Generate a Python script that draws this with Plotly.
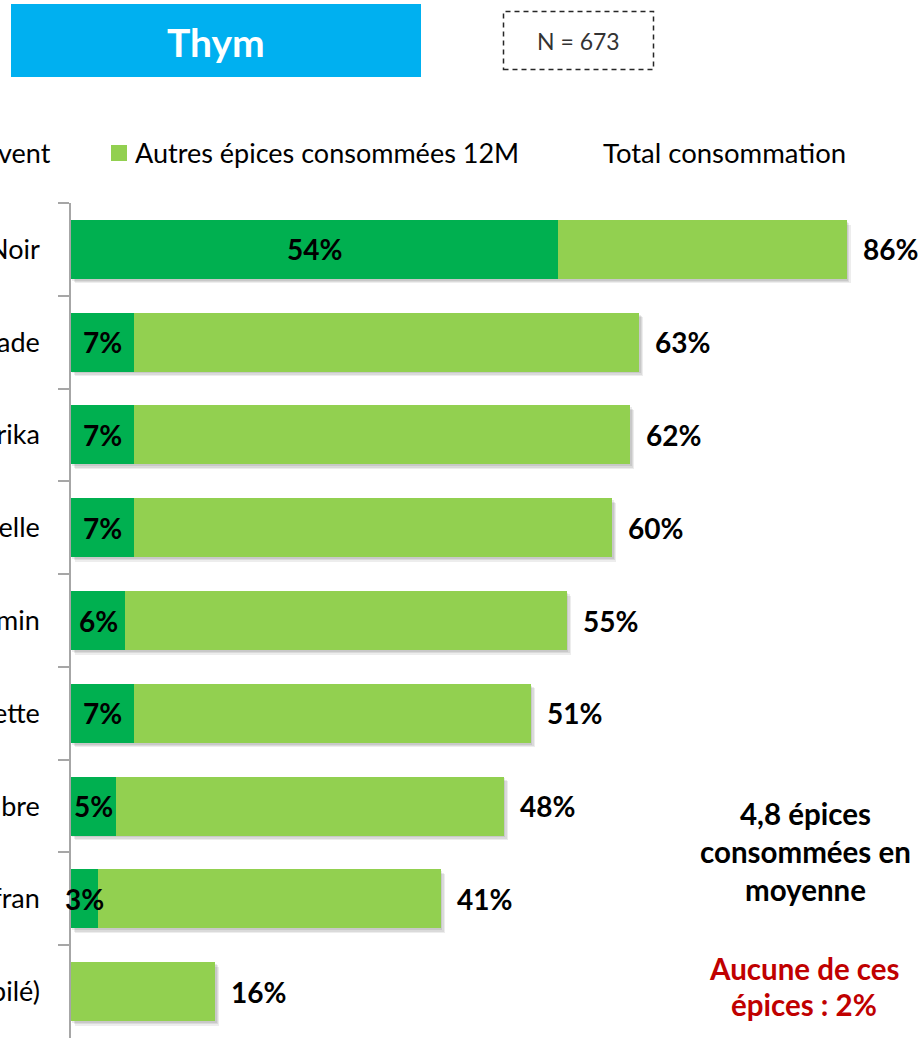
import plotly.graph_objects as go

# --- data -------------------------------------------------------------
categories = ["Poivre Noir", "Noix de Muscade", "Paprika", "Cannelle", "Cumin",
              "Piment d'Espelette", "Gingembre", "Safran", "Piment (pilé)"]
souvent = [54, 7, 7, 7, 6, 7, 5, 3, 0]          # dark segment
total = [86, 63, 62, 60, 55, 51, 48, 41, 16]     # total consumption
autres = [t - s for t, s in zip(total, souvent)]  # light segment

legend_labels = ["Épices consommées souvent", "Autres épices consommées 12M", "Total consommation"]
title_text = "Thym"
sample_text = "N = 673"
moyenne_lines = ["4,8 épices", "consommées en", "moyenne"]
aucune_lines = ["Aucune de ces", "épices : 2%"]

# --- page geometry ----------------------------------------------------
W, H = 923, 1038
ML, MT = 71, 203
PW, PH = W - ML, H - MT
PX_PER_PCT = 9.02
XMAX = PW / PX_PER_PCT

DARK = "#00B050"
LIGHT = "#92D050"
FONT = "Lato"
BAR_W = 0.635


def px(x):
    return (x - ML) / PW


def py(y):
    return (H - y) / PH


fig = go.Figure()

# soft drop shadow under each bar
for dy, dx, a in [(0.05, 0.45, 0.07), (0.035, 0.3, 0.08), (0.02, 0.15, 0.08)]:
    fig.add_trace(go.Bar(
        y=categories, x=total, base=dx, orientation="h",
        width=BAR_W, offset=-BAR_W / 2 + dy,
        marker=dict(color=f"rgba(0,0,0,{a})", line=dict(width=0)),
        hoverinfo="skip", showlegend=False,
    ))

fig.add_trace(go.Bar(
    y=categories, x=souvent, orientation="h", name=legend_labels[0],
    width=BAR_W, marker=dict(color=DARK, line=dict(width=0)), showlegend=False,
))
fig.add_trace(go.Bar(
    y=categories, x=autres, base=souvent, orientation="h", name=legend_labels[1],
    width=BAR_W, marker=dict(color=LIGHT, line=dict(width=0)), showlegend=False,
))

annotations = []
# value labels
for cat, s, t in zip(categories, souvent, total):
    if s > 0:
        annotations.append(dict(x=s / 2, y=cat, xref="x", yref="y", text=f"<b>{s}%</b>",
                                showarrow=False, xanchor="center", yanchor="middle",
                                font=dict(family=FONT, size=28, color="black")))
    annotations.append(dict(x=t, y=cat, xref="x", yref="y", text=f"<b>{t}%</b>",
                            showarrow=False, xanchor="left", yanchor="middle", xshift=14,
                            font=dict(family=FONT, size=28, color="black")))

# title banner and sample size
annotations.append(dict(x=px(216), y=py(42), xref="paper", yref="paper", text=f"<b>{title_text}</b>",
                        showarrow=False, xanchor="center", yanchor="middle",
                        font=dict(family=FONT, size=39, color="white")))
annotations.append(dict(x=px(578), y=py(41), xref="paper", yref="paper", text=sample_text,
                        showarrow=False, xanchor="center", yanchor="middle",
                        font=dict(family=FONT, size=23, color="#333333")))

# legend
annotations.append(dict(x=px(53), y=py(153), xref="paper", yref="paper", text=legend_labels[0],
                        showarrow=False, xanchor="right", yanchor="middle", xshift=0,
                        font=dict(family=FONT, size=27, color="black")))
annotations.append(dict(x=px(133), y=py(153), xref="paper", yref="paper", text=legend_labels[1],
                        showarrow=False, xanchor="left", yanchor="middle",
                        font=dict(family=FONT, size=27, color="black")))
annotations.append(dict(x=px(601), y=py(153), xref="paper", yref="paper", text=legend_labels[2],
                        showarrow=False, xanchor="left", yanchor="middle",
                        font=dict(family=FONT, size=27.5, color="black")))

# side notes
for i, line in enumerate(moyenne_lines):
    annotations.append(dict(x=px(805), y=py(813 + 38 * i), xref="paper", yref="paper",
                            text=f"<b>{line}</b>", showarrow=False, xanchor="center", yanchor="middle",
                            font=dict(family=FONT, size=29.5, color="black")))
for i, line in enumerate(aucune_lines):
    annotations.append(dict(x=px(804), y=py(968 + 36 * i), xref="paper", yref="paper",
                            text=f"<b>{line}</b>", showarrow=False, xanchor="center", yanchor="middle",
                            font=dict(family=FONT, size=29.5, color="#C00000")))

shapes = [
    dict(type="rect", xref="paper", yref="paper", x0=px(11), x1=px(421), y0=py(77), y1=py(4),
         fillcolor="#00B0F0", line=dict(width=0), layer="below"),
    dict(type="rect", xref="paper", yref="paper", x0=px(503.5), x1=px(653.5), y0=py(69.5), y1=py(11.5),
         fillcolor="rgba(0,0,0,0)", line=dict(color="#262626", width=1.5, dash="5px,4px")),
    dict(type="rect", xref="paper", yref="paper", x0=px(111), x1=px(127), y0=py(161), y1=py(145),
         fillcolor=LIGHT, line=dict(width=0)),
    dict(type="rect", xref="paper", yref="paper", x0=px(-360), x1=px(-344), y0=py(161), y1=py(145),
         fillcolor=DARK, line=dict(width=0)),
]

fig.update_layout(
    width=W, height=H,
    margin=dict(l=ML, r=0, t=MT, b=0, pad=0),
    paper_bgcolor="white", plot_bgcolor="white",
    barmode="overlay", bargap=0,
    showlegend=False,
    annotations=annotations, shapes=shapes,
    xaxis=dict(range=[0, XMAX], visible=False, fixedrange=True),
    yaxis=dict(type="category", categoryorder="array", categoryarray=categories,
               range=[len(categories) - 0.5, -0.5], automargin=False,
               showline=True, linecolor="#A6A6A6", linewidth=1.5,
               ticks="outside", tickson="boundaries", ticklen=11, tickwidth=1.5, tickcolor="#A6A6A6",
               ticklabelstandoff=24, showgrid=False, zeroline=False,
               tickfont=dict(family=FONT, size=27, color="black")),
)

fig.write_html("out.html")
